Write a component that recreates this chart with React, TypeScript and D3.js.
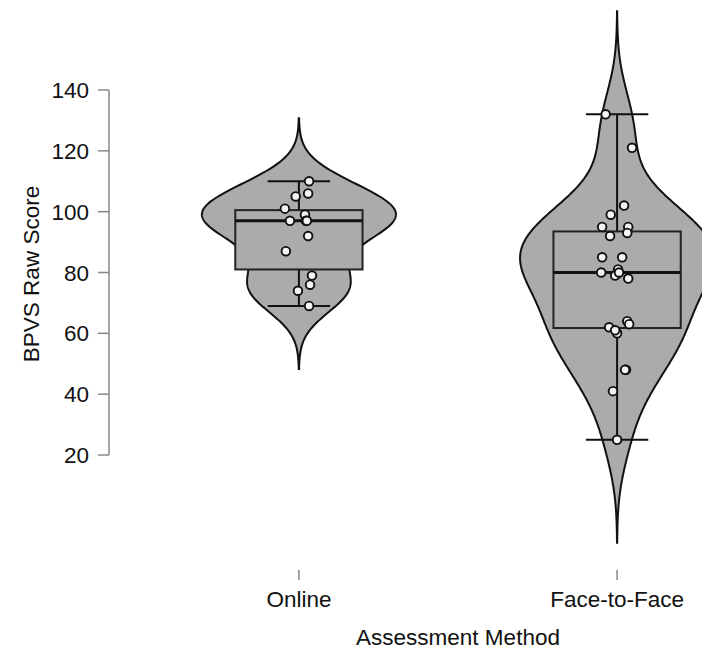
import React from "react";
import * as d3 from "d3";

const categories = ["Online", "Face-to-Face"];
const onlineScores = [110, 106, 105, 101, 99, 97, 97, 97, 92, 87, 79, 76, 74, 69];
const onlineJitter = [0.032, 0.029, -0.01, -0.044, 0.019, -0.028, 0.022, 0.025, 0.029, -0.041, 0.041, 0.035, -0.003, 0.032];
const faceScores = [132, 121, 102, 99, 95, 95, 92, 93, 85, 85, 80, 81, 79, 80, 78, 64, 63, 62, 60, 61, 48, 48, 41, 25];
const faceJitter = [-0.036, 0.047, 0.022, -0.02, -0.047, 0.035, -0.022, 0.032, -0.047, 0.016, -0.05, 0.003, -0.006, 0.006, 0.035, 0.032, 0.038, -0.025, 0.0, -0.006, 0.028, 0.025, -0.013, 0.0];
const yTicks = [20, 40, 60, 80, 100, 120, 140];
const xTitle = "Assessment Method";
const yTitle = "BPVS Raw Score";

const W = 702;
const H = 652;
const FONT = "'Liberation Sans', Arial, Helvetica, sans-serif";
const GREY = "#ababab";

function kde(values: number[]) {
  const s = values.slice().sort(d3.ascending);
  const n = s.length;
  const sd = d3.deviation(s) as number;
  const iqr = (d3.quantileSorted(s, 0.75) as number) - (d3.quantileSorted(s, 0.25) as number);
  const lo = Math.min(sd, iqr / 1.34);
  const bw = 0.9 * lo * Math.pow(n, -0.2);
  const from = s[0] - 3 * bw;
  const to = s[n - 1] + 3 * bw;
  const m = 512;
  const pts: { v: number; d: number }[] = [];
  for (let i = 0; i < m; i++) {
    const t = from + ((to - from) * i) / (m - 1);
    let sum = 0;
    for (const v of s) {
      const z = (t - v) / bw;
      sum += Math.exp(-0.5 * z * z);
    }
    pts.push({ v: t, d: sum / (n * bw * Math.sqrt(2 * Math.PI)) });
  }
  return pts;
}

function boxStats(values: number[]) {
  const s = values.slice().sort(d3.ascending);
  const q1 = d3.quantileSorted(s, 0.25) as number;
  const med = d3.quantileSorted(s, 0.5) as number;
  const q3 = d3.quantileSorted(s, 0.75) as number;
  const iqr = q3 - q1;
  const lowF = q1 - 1.5 * iqr;
  const hiF = q3 + 1.5 * iqr;
  const wLo = d3.min(s.filter((v) => v >= lowF)) as number;
  const wHi = d3.max(s.filter((v) => v <= hiF)) as number;
  return { q1, med, q3, wLo, wHi };
}

export default function App() {
  const x = d3.scalePoint<string>().domain(categories).range([108, 808]).padding(0.6);
  const step = x.step();
  const y = d3.scaleLinear().domain([20, 140]).range([455, 90]);

  const groups = [
    { name: categories[0], values: onlineScores, jitter: onlineJitter },
    { name: categories[1], values: faceScores, jitter: faceJitter },
  ];

  const violinHalf = 0.305 * step;
  const boxHalf = 0.2 * step;
  const capHalf = 0.098 * step;
  const LW = 2;

  return (
    <div style={{ position: "absolute", left: 0, top: 0 }}>
      <svg width={W} height={H} style={{ display: "block", background: "#fff" }}>
        {groups.map((g) => {
          const cx = x(g.name) as number;
          const dens = kde(g.values);
          const maxD = d3.max(dens, (p) => p.d) as number;
          const w = d3.scaleLinear().domain([0, maxD]).range([0, violinHalf]);
          const area = d3
            .area<{ v: number; d: number }>()
            .x0((p) => cx - w(p.d))
            .x1((p) => cx + w(p.d))
            .y((p) => y(p.v));
          const b = boxStats(g.values);
          return (
            <g key={g.name}>
              <path d={area(dens) as string} fill={GREY} stroke="#111" strokeWidth={LW} />
              <line x1={cx} x2={cx} y1={y(b.q3)} y2={y(b.wHi)} stroke="#111" strokeWidth={LW} />
              <line x1={cx} x2={cx} y1={y(b.q1)} y2={y(b.wLo)} stroke="#111" strokeWidth={LW} />
              <line x1={cx - capHalf} x2={cx + capHalf} y1={y(b.wHi)} y2={y(b.wHi)} stroke="#111" strokeWidth={LW} />
              <line x1={cx - capHalf} x2={cx + capHalf} y1={y(b.wLo)} y2={y(b.wLo)} stroke="#111" strokeWidth={LW} />
              <rect
                x={cx - boxHalf}
                y={y(b.q3)}
                width={2 * boxHalf}
                height={y(b.q1) - y(b.q3)}
                fill={GREY}
                stroke="#222"
                strokeWidth={LW}
              />
              <line x1={cx - boxHalf} x2={cx + boxHalf} y1={y(b.med)} y2={y(b.med)} stroke="#111" strokeWidth={3} />
              {g.values.map((v, i) => (
                <circle
                  key={i}
                  cx={cx + g.jitter[i] * step}
                  cy={y(v)}
                  r={4.3}
                  fill="#f4f4f4"
                  stroke="#111"
                  strokeWidth={1.9}
                />
              ))}
            </g>
          );
        })}

        {/* y axis */}
        <line x1={109} x2={109} y1={y(140)} y2={y(20)} stroke="#888" strokeWidth={1.5} />
        {yTicks.map((t) => (
          <g key={t}>
            <line x1={98} x2={109} y1={y(t)} y2={y(t)} stroke="#888" strokeWidth={1.5} />
            <text
              x={89}
              y={y(t)}
              dy="0.36em"
              textAnchor="end"
              fontFamily={FONT}
              fontSize={22.5}
              fill="#111"
            >
              {t}
            </text>
          </g>
        ))}

        {/* x axis */}
        {categories.map((c) => (
          <g key={c}>
            <line x1={x(c)} x2={x(c)} y1={570} y2={580} stroke="#888" strokeWidth={1.5} />
            <text x={x(c)} y={607} textAnchor="middle" fontFamily={FONT} fontSize={22.5} fill="#111">
              {c}
            </text>
          </g>
        ))}
        <text x={458} y={645} textAnchor="middle" fontFamily={FONT} fontSize={22.5} fill="#111">
          {xTitle}
        </text>
        <text
          transform={`translate(39,274) rotate(-90)`}
          textAnchor="middle"
          fontFamily={FONT}
          fontSize={22.5}
          fill="#111"
        >
          {yTitle}
        </text>
      </svg>
    </div>
  );
}
